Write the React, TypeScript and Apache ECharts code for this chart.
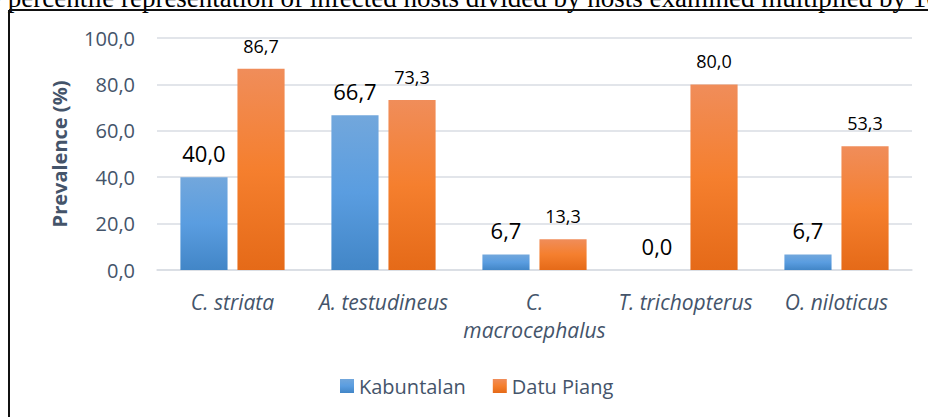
import React, { useEffect, useRef } from "react";
import * as echarts from "echarts";

const categories = ["C. striata", "A. testudineus", "C.\nmacrocephalus", "T. trichopterus", "O. niloticus"];
const kabuntalan = [40.0, 66.7, 6.7, 0.0, 6.7];
const datuPiang = [86.7, 73.3, 13.3, 80.0, 53.3];
const seriesNames = ["Kabuntalan", "Datu Piang"];
const yTicks = { min: 0, max: 100, interval: 20 };
const caption = "the percentile representation of infected hosts divided by hosts examined multiplied by 100";

const fmt = (v: number) => v.toFixed(1).replace(".", ",");
const slate = "#44546a";

export default function App() {
  const ref = useRef<HTMLDivElement>(null);
  useEffect(() => {
    if (!ref.current) return;
    const chart = echarts.init(ref.current, undefined, { renderer: "svg" });
    const blue = new echarts.graphic.LinearGradient(0, 0, 0, 1, [
      { offset: 0, color: "#72a7dc" },
      { offset: 0.5, color: "#5a9de0" },
      { offset: 1, color: "#4286c7" },
    ]);
    const orange = new echarts.graphic.LinearGradient(0, 0, 0, 1, [
      { offset: 0, color: "#f08d5a" },
      { offset: 0.5, color: "#f57f2e" },
      { offset: 1, color: "#e56a18" },
    ]);
    chart.setOption({
      animation: false,
      textStyle: { fontFamily: "Open Sans" },
      grid: { left: 157, right: 16, top: 38, bottom: 147 },
      graphic: [
        {
          type: "text",
          x: -32,
          y: 11,
          style: {
            text: caption,
            fontFamily: "Liberation Serif",
            fontSize: 27,
            fill: "#000",
            verticalAlign: "bottom",
            align: "left",
          },
        },
        {
          type: "line",
          shape: { x1: 9, y1: 10, x2: 928, y2: 10 },
          style: { stroke: "#111", lineWidth: 2 },
        },
        {
          type: "line",
          shape: { x1: 9, y1: 10, x2: 9, y2: 417 },
          style: { stroke: "#111", lineWidth: 2 },
        },
      ],
      legend: {
        data: seriesNames,
        left: 335,
        top: 371,
        itemWidth: 14,
        itemHeight: 14,
        itemGap: 27,
        icon: "rect",
        textStyle: { fontSize: 20, color: slate, fontFamily: "Open Sans" },
      },
      xAxis: {
        type: "category",
        data: categories,
        axisTick: { show: false },
        axisLine: { lineStyle: { color: "#d9dde3", width: 1.5 } },
        axisLabel: {
          interval: 0,
          margin: 18,
          fontSize: 21,
          lineHeight: 28,
          fontStyle: "italic",
          color: slate,
          fontFamily: "Open Sans",
        },
      },
      yAxis: {
        type: "value",
        min: yTicks.min,
        max: yTicks.max,
        interval: yTicks.interval,
        name: "Prevalence (%)",
        nameLocation: "middle",
        nameGap: 88,
        nameTextStyle: { fontSize: 20, fontWeight: "bold", color: slate, fontFamily: "Open Sans" },
        axisLabel: {
          formatter: (v: number) => fmt(v),
          fontSize: 20,
          color: slate,
          margin: 22,
          fontFamily: "Open Sans",
        },
        splitLine: { lineStyle: { color: "#d9dde3", width: 1.5 } },
      },
      series: [
        {
          name: seriesNames[0],
          type: "bar",
          data: kabuntalan,
          barGap: "21%",
          barCategoryGap: "31%",
          itemStyle: { color: blue },
          label: {
            show: true,
            position: "top",
            distance: 13,
            fontSize: 22,
            color: "#000",
            fontFamily: "Open Sans",
            formatter: (p: any) => fmt(p.value),
          },
        },
        {
          name: seriesNames[1],
          type: "bar",
          data: datuPiang,
          barGap: "21%",
          barCategoryGap: "31%",
          itemStyle: { color: orange },
          label: {
            show: true,
            position: "top",
            distance: 14,
            fontSize: 18,
            color: "#000",
            fontFamily: "Open Sans",
            formatter: (p: any) => fmt(p.value),
          },
        },
      ],
    });
    return () => chart.dispose();
  }, []);
  return (
    <div
      ref={ref}
      style={{ position: "fixed", left: 0, top: 0, width: 928, height: 417, background: "#fff" }}
    />
  );
}
